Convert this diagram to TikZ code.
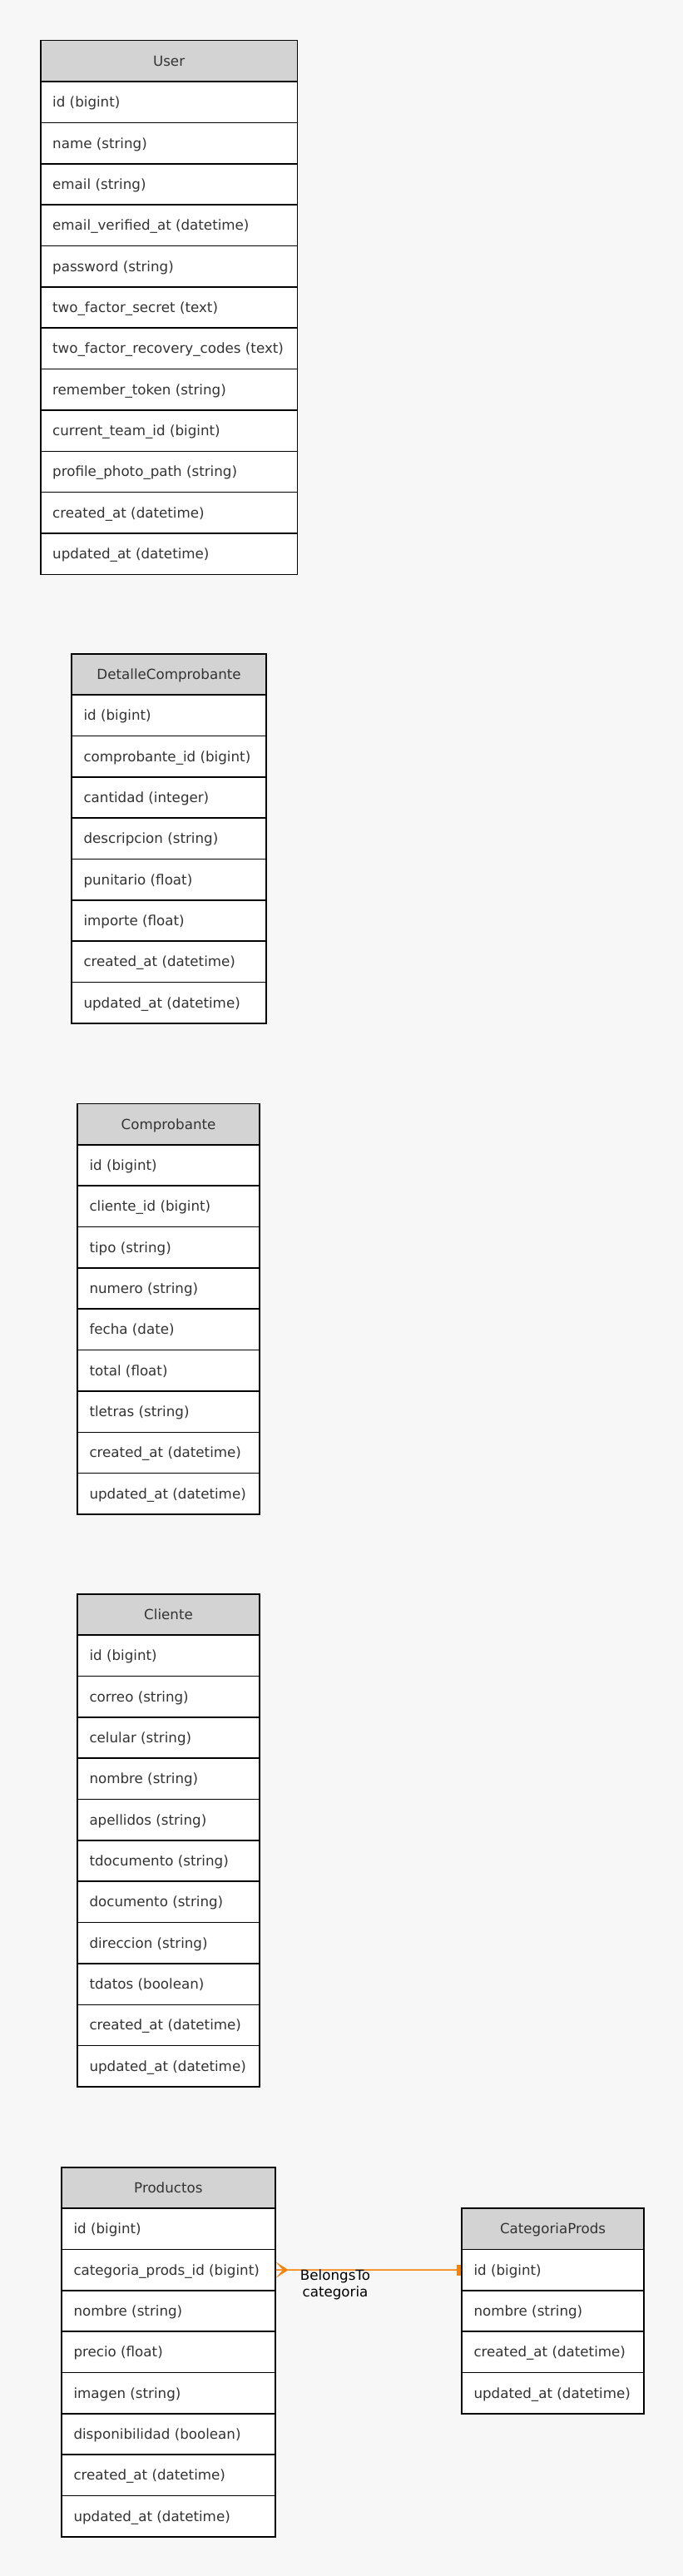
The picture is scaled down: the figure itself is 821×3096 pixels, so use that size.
\documentclass[tikz,border=0pt]{standalone}
\usepackage{fontspec}
\setmainfont{DejaVu Sans}
\usetikzlibrary{calc}
\definecolor{bgc}{HTML}{F7F7F7}
\definecolor{hdrc}{HTML}{D3D3D3}
\definecolor{txtc}{HTML}{333333}
\definecolor{edgec}{RGB}{245,130,10}
\tikzset{
  cellbox/.style={draw=black, line width=1.5pt, fill=white, inner sep=0pt, minimum height=49.35pt, anchor=north west},
  hdrbox/.style={cellbox, fill=hdrc},
  celltext/.style={text=txtc, inner sep=0pt, anchor=base west, font=\fontsize{16.7}{20}\selectfont},
  hdrtext/.style={text=txtc, inner sep=0pt, anchor=base, font=\fontsize{16.7}{20}\selectfont},
  rel/.style={draw=edgec, line width=1.6pt},
  rellabel/.style={align=center, font=\fontsize{16.7}{19.5}\selectfont, text=black, inner sep=0pt}
}
\newcommand\erdtab[6]{%
  \node[hdrbox, minimum width=#4pt] (#1-h) at (#2,#3) {};
  \node[hdrtext] (#1-ht) at ([yshift=-6pt]#1-h.center) {#5};
  \foreach \txt [count=\i] in {#6} {
    \node[cellbox, minimum width=#4pt] (#1-\i) at (#2,{#3+\i*49.35}) {};
    \node[celltext] (#1-\i-t) at ([xshift=15pt,yshift=-6pt]#1-\i.west) {\txt};
  }
}
\begin{document}
\begin{tikzpicture}[x=1pt,y=-1pt]
\fill[bgc] (0,0) rectangle (821,3096);
\useasboundingbox (0,0) rectangle (821,3096);

\erdtab{u}{48}{48}{308.7}{User}{id (bigint), name (string), email (string), email\_verified\_at (datetime), password (string), two\_factor\_secret (text), two\_factor\_recovery\_codes (text), remember\_token (string), current\_team\_id (bigint), profile\_photo\_path (string), created\_at (datetime), updated\_at (datetime)}

\erdtab{d}{85.3}{785}{234}{DetalleComprobante}{id (bigint), comprobante\_id (bigint), cantidad (integer), descripcion (string), punitario (float), importe (float), created\_at (datetime), updated\_at (datetime)}

\erdtab{co}{92.3}{1325.7}{219}{Comprobante}{id (bigint), cliente\_id (bigint), tipo (string), numero (string), fecha (date), total (float), tletras (string), created\_at (datetime), updated\_at (datetime)}

\erdtab{cl}{92.3}{1915}{219}{Cliente}{id (bigint), correo (string), celular (string), nombre (string), apellidos (string), tdocumento (string), documento (string), direccion (string), tdatos (boolean), created\_at (datetime), updated\_at (datetime)}

\erdtab{p}{73.3}{2604}{256.7}{Productos}{id (bigint), categoria\_prods\_id (bigint), nombre (string), precio (float), imagen (string), disponibilidad (boolean), created\_at (datetime), updated\_at (datetime)}

\erdtab{c}{554.3}{2653.3}{219}{CategoriaProds}{id (bigint), nombre (string), created\_at (datetime), updated\_at (datetime)}

% relation
\draw[rel] (p-2.east) -- (c-1.west);
\fill[edgec] ($(p-2.east)+(0,-9.8)$) -- ($(p-2.east)+(15,0)$) -- ($(p-2.east)+(0,9.8)$) -- ($(p-2.east)+(8.5,0)$) -- cycle;
\fill[edgec] ($(c-1.west)+(-5.5,-6.6)$) rectangle ($(c-1.west)+(0,6.6)$);
\node[rellabel] (lbl) at (403,2746) {BelongsTo\\categoria};
\end{tikzpicture}
\end{document}
